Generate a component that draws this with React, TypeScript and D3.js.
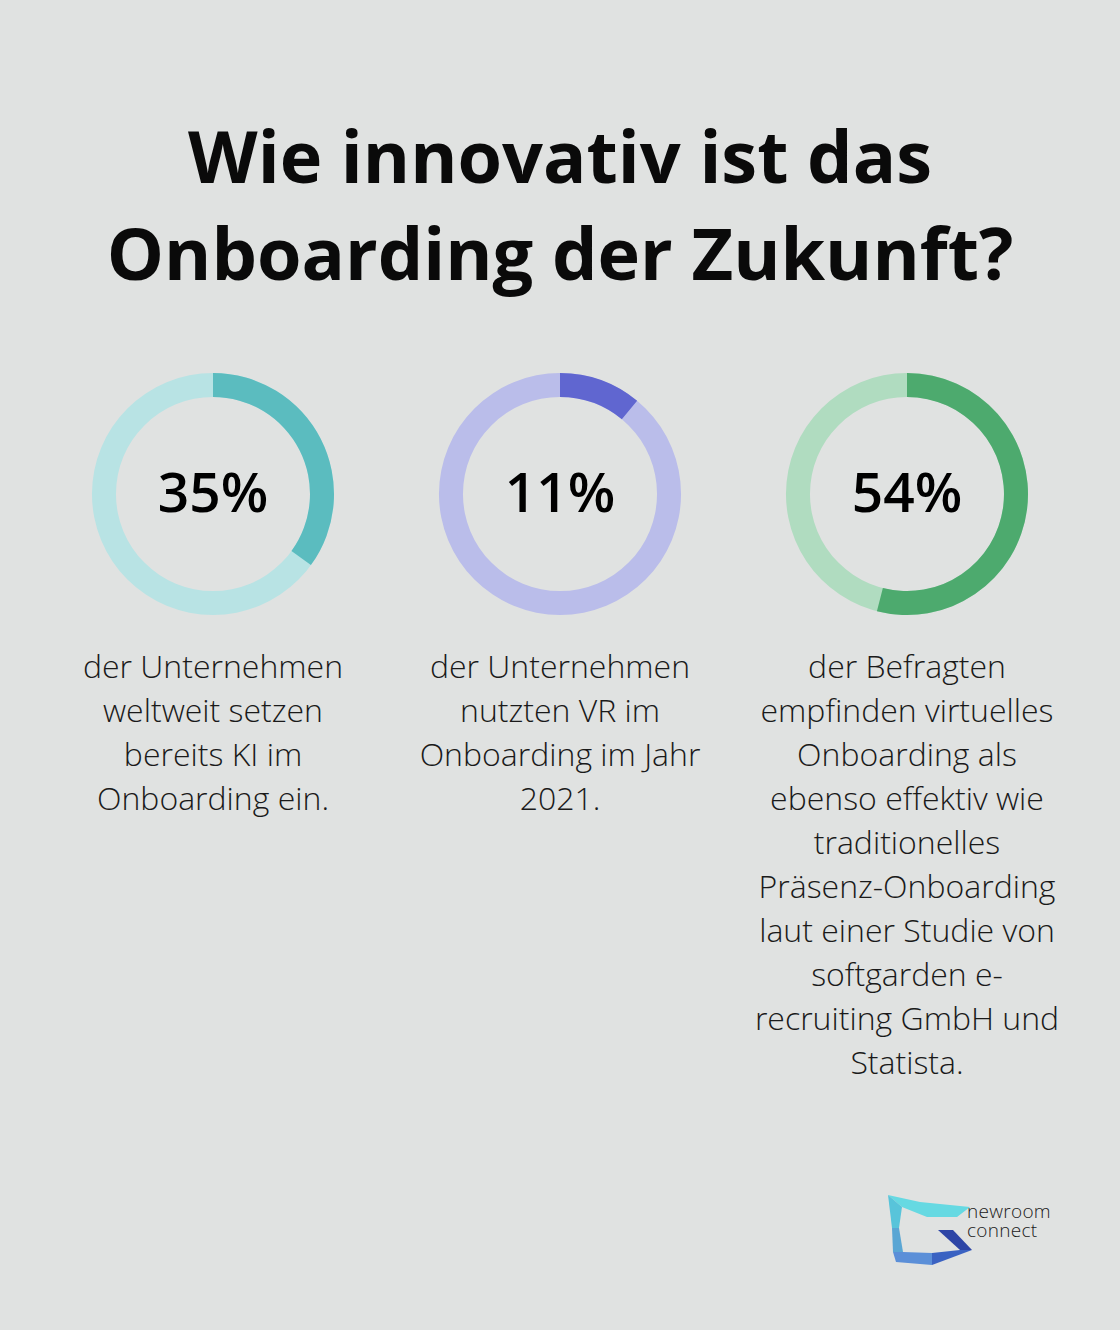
import React from "react";
import * as d3 from "d3";

const W = 1120;
const H = 1330;

const titleLines = ["Wie innovativ ist das", "Onboarding der Zukunft?"];
const values = [35, 11, 54];
const labels = ["35%", "11%", "54%"];
const darkColors = ["#5bbcbf", "#6066d0", "#4daa6e"];
const lightColors = ["#b8e3e4", "#babdea", "#b0dcc0"];
const descriptions = [
  ["der Unternehmen", "weltweit setzen", "bereits KI im", "Onboarding ein."],
  ["der Unternehmen", "nutzten VR im", "Onboarding im Jahr", "2021."],
  [
    "der Befragten",
    "empfinden virtuelles",
    "Onboarding als",
    "ebenso effektiv wie",
    "traditionelles",
    "Präsenz-Onboarding",
    "laut einer Studie von",
    "softgarden e-",
    "recruiting GmbH und",
    "Statista.",
  ],
];
const columnCenters = [213, 560, 907];
const logoWords = ["newroom", "connect"];

const logoPolys: { pts: [number, number][]; fill: string }[] = [
  { pts: [[888, 1195], [920, 1202], [970, 1207], [957, 1217], [927, 1217], [902, 1207]], fill: "#66d9e2" },
  { pts: [[888, 1195], [902, 1207], [899, 1228], [892, 1228]], fill: "#58c4da" },
  { pts: [[892, 1228], [899, 1228], [903, 1252], [893, 1252]], fill: "#5aa6d4" },
  { pts: [[893, 1252], [903, 1252], [932, 1253], [932, 1265], [896, 1262]], fill: "#5b8fd8" },
  { pts: [[932, 1253], [960, 1250], [972, 1250], [932, 1265]], fill: "#3a62c2" },
  { pts: [[938, 1230], [953, 1230], [972, 1250], [960, 1250]], fill: "#2d45a6" },
];

export default function App() {
  const rOuter = 121;
  const rInner = 97;
  const scale = d3.scaleLinear().domain([0, 100]).range([0, 2 * Math.PI]);
  const arc = d3.arc<any>().innerRadius(rInner).outerRadius(rOuter);
  const cy = 494;

  return (
    <svg
      width={W}
      height={H}
      style={{ position: "absolute", left: 0, top: 0, display: "block" }}
      fontFamily="'Open Sans', sans-serif"
    >
      <rect x={0} y={0} width={W} height={H} fill="#e0e2e1" />
      {titleLines.map((t, i) => (
        <text
          key={i}
          x={W / 2}
          y={183 + i * 97}
          textAnchor="middle"
          fontSize={72}
          fontWeight={700}
          fill="#0a0a0a"
        >
          {t}
        </text>
      ))}
      {values.map((v, i) => (
        <g key={i} transform={`translate(${columnCenters[i]},${cy})`}>
          <path
            d={arc({ startAngle: 0, endAngle: 2 * Math.PI }) || ""}
            fill={lightColors[i]}
          />
          <path
            d={arc({ startAngle: 0, endAngle: scale(v) }) || ""}
            fill={darkColors[i]}
          />
          <text
            x={0}
            y={18}
            textAnchor="middle"
            fontSize={55}
            fontWeight={600}
            fill="#000"
          >
            {labels[i]}
          </text>
        </g>
      ))}
      {descriptions.map((lines, i) => (
        <g key={i}>
          {lines.map((l, j) => (
            <text
              key={j}
              x={columnCenters[i]}
              y={678 + j * 44}
              textAnchor="middle"
              fontSize={32}
              fontWeight={300}
              fill="#1a1a1a"
            >
              {l}
            </text>
          ))}
        </g>
      ))}
      <g>
        {logoPolys.map((p, i) => (
          <polygon key={i} points={p.pts.map((q) => q.join(",")).join(" ")} fill={p.fill} />
        ))}
        <text fontSize={19} letterSpacing={0.3} fill="#1a1a1a" fontWeight={300}>
          {logoWords.map((w, i) => (
            <tspan key={i} x={967} y={1218 + i * 19}>
              {w}
            </tspan>
          ))}
        </text>
      </g>
    </svg>
  );
}
